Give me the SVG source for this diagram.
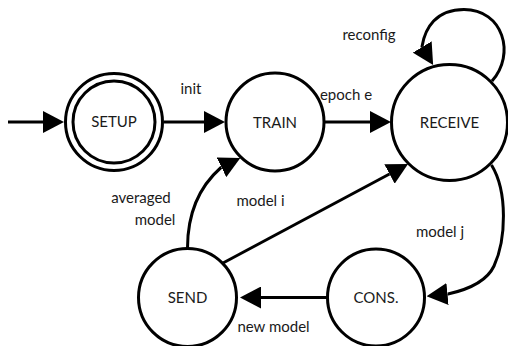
<svg xmlns="http://www.w3.org/2000/svg" width="508" height="346" viewBox="0 0 508 346">
<style>
.state{fill:#fff;stroke:#000;stroke-width:3}
.edge{fill:none;stroke:#000;stroke-width:3;stroke-linejoin:round;marker-end:url(#arrow)}
.lbl{font-family:Lato,"Open Sans",sans-serif;font-size:15px;fill:#1a1a1a;text-anchor:middle}
</style>
<defs>
<marker id="arrow" viewBox="0 0 21 22" refX="0" refY="11" markerWidth="21" markerHeight="22" markerUnits="userSpaceOnUse" orient="auto">
<path d="M0,0 L21,11 L0,22 Z" fill="#000"/>
</marker>
</defs>
<rect width="508" height="346" fill="#fff"/>
<g id="connectors">
<path id="e-start" class="edge" d="M8 122 L43 122"/>
<path id="e-init" class="edge" d="M164 122 L204 122"/>
<path id="e-epoch" class="edge" d="M324 122 L370 122"/>
<path id="e-reconfig" class="edge" d="M492 81 C516 54, 503 9.5, 464 9.5 C436 9.5, 425 28, 422 46.5 l0.26 0.43"/>
<path id="e-averaged" class="edge" d="M187.5 248 C187.5 212, 200 186, 221 167.5 l0.45 -0.22"/>
<path id="e-modeli" class="edge" d="M223 263 L389.5 174"/>
<path id="e-modelj" class="edge" d="M491.5 165 C508 192, 506 240, 494 266 C486 283, 466 290, 448 294 l-0.5 0.05"/>
<path id="e-newmodel" class="edge" d="M327 297.5 L261 297.5"/>
</g>
<g id="SETUP">
<circle class="state" cx="114" cy="122" r="48.5"/>
<circle class="state" cx="114" cy="122" r="41"/>
<text class="lbl" x="114" y="127">SETUP</text>
</g>
<g id="TRAIN">
<circle class="state" cx="275" cy="122" r="49"/>
<text class="lbl" x="275" y="127.5">TRAIN</text>
</g>
<g id="RECEIVE">
<circle class="state" cx="449.5" cy="122.5" r="58"/>
<text class="lbl" x="449.5" y="128">RECEIVE</text>
</g>
<g id="SEND">
<circle class="state" cx="187.5" cy="297.5" r="49"/>
<text class="lbl" x="187.5" y="303">SEND</text>
</g>
<g id="CONS">
<circle class="state" cx="376" cy="297.5" r="48.5"/>
<text class="lbl" x="376" y="303">CONS.</text>
</g>
<g id="labels">
<text class="lbl" x="191" y="94">init</text>
<text class="lbl" x="346" y="99.5">epoch e</text>
<text class="lbl" x="369" y="40">reconfig</text>
<text class="lbl" x="141" y="202.5">averaged</text>
<text class="lbl" x="155" y="225">model</text>
<text class="lbl" x="260.5" y="205.5">model i</text>
<text class="lbl" x="440" y="236.5">model j</text>
<text class="lbl" x="273.5" y="331.5">new model</text>
</g>
</svg>
